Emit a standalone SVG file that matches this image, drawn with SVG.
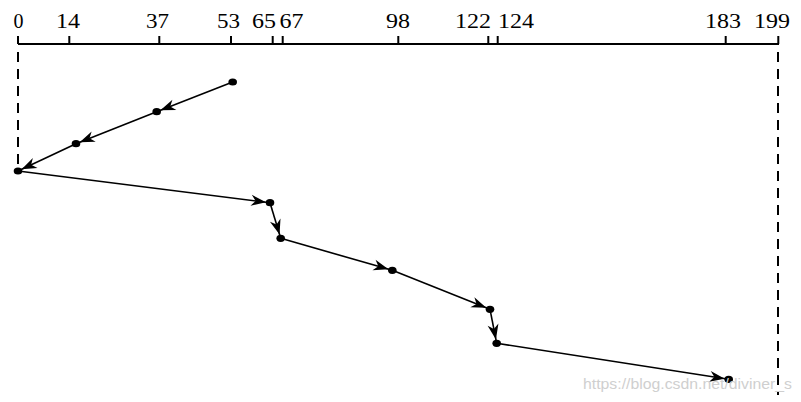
<svg xmlns="http://www.w3.org/2000/svg" width="801" height="402" viewBox="0 0 801 402">
<style>
.lbl{font-family:"Liberation Serif","Times New Roman",serif;font-size:20px;fill:#000}
.axis{stroke:#000;stroke-width:2;fill:none}
.dash{stroke:#000;stroke-width:2;stroke-dasharray:10 7;fill:none}
.seg{stroke:#000;stroke-width:1.6;fill:none;marker-end:url(#arr)}
.dot{fill:#000}
.wm{font-family:"Liberation Sans",Arial,sans-serif;font-size:15.5px;fill:#cfcfcf}
</style>
<defs>
<marker id="arr" markerUnits="userSpaceOnUse" viewBox="-22 -8 24 16" refX="0" refY="0" markerWidth="24" markerHeight="16" orient="auto">
<path d="M-4,0 L-19,-5.5 L-14.5,0 L-19,5.5 Z" fill="#000"/>
</marker>
</defs>
<rect width="801" height="402" fill="#fff"/>
<g id="axis">
<line class="axis" x1="18" y1="44" x2="779" y2="44"/>
<path class="axis" d="M18,36V44M69.3,36V44M159.3,36V44M231,36V44M272.7,36V44M282.7,36V44M398.3,36V44M488.3,36V44M497.7,36V44M725.7,36V44M778.3,36V44"/>
<text class="lbl" x="13.5" y="28" textLength="10" lengthAdjust="spacingAndGlyphs">0</text>
<text class="lbl" x="56" y="28" textLength="24" lengthAdjust="spacingAndGlyphs">14</text>
<text class="lbl" x="146" y="28" textLength="23" lengthAdjust="spacingAndGlyphs">37</text>
<text class="lbl" x="217" y="28" textLength="23" lengthAdjust="spacingAndGlyphs">53</text>
<text class="lbl" x="252" y="28" textLength="24" lengthAdjust="spacingAndGlyphs">65</text>
<text class="lbl" x="279.5" y="28" textLength="24" lengthAdjust="spacingAndGlyphs">67</text>
<text class="lbl" x="386" y="28" textLength="24" lengthAdjust="spacingAndGlyphs">98</text>
<text class="lbl" x="455" y="28" textLength="36" lengthAdjust="spacingAndGlyphs">122</text>
<text class="lbl" x="498" y="28" textLength="36" lengthAdjust="spacingAndGlyphs">124</text>
<text class="lbl" x="705" y="28" textLength="36" lengthAdjust="spacingAndGlyphs">183</text>
<text class="lbl" x="754" y="28" textLength="36" lengthAdjust="spacingAndGlyphs">199</text>
</g>
<g id="bounds">
<line class="dash" x1="18" y1="52" x2="18" y2="168"/>
<line class="dash" x1="778" y1="52" x2="778" y2="395"/>
</g>
<g id="connectors">
<line class="seg" x1="232.7" y1="82" x2="156.7" y2="111.7"/>
<line class="seg" x1="156.7" y1="111.7" x2="76" y2="143.7"/>
<line class="seg" x1="76" y1="143.7" x2="18" y2="171"/>
<line class="seg" x1="18" y1="171" x2="270" y2="202.7"/>
<line class="seg" x1="270" y1="202.7" x2="280.7" y2="238.3"/>
<line class="seg" x1="280.7" y1="238.3" x2="392.3" y2="270.3"/>
<line class="seg" x1="392.3" y1="270.3" x2="490" y2="309.3"/>
<line class="seg" x1="490" y1="309.3" x2="496.7" y2="343.3"/>
<line class="seg" x1="496.7" y1="343.3" x2="728.7" y2="379.3"/>
</g>
<g id="n53"><ellipse class="dot" cx="232.7" cy="82" rx="4.3" ry="3.6"/></g>
<g id="n37"><ellipse class="dot" cx="156.7" cy="111.7" rx="4.3" ry="3.6"/></g>
<g id="n14"><ellipse class="dot" cx="76" cy="143.7" rx="4.3" ry="3.6"/></g>
<g id="n0"><ellipse class="dot" cx="18" cy="171" rx="4.3" ry="3.6"/></g>
<g id="n65"><ellipse class="dot" cx="270" cy="202.7" rx="4.3" ry="3.6"/></g>
<g id="n67"><ellipse class="dot" cx="280.7" cy="238.3" rx="4.3" ry="3.6"/></g>
<g id="n98"><ellipse class="dot" cx="392.3" cy="270.3" rx="4.3" ry="3.6"/></g>
<g id="n122"><ellipse class="dot" cx="490" cy="309.3" rx="4.3" ry="3.6"/></g>
<g id="n124"><ellipse class="dot" cx="496.7" cy="343.3" rx="4.3" ry="3.6"/></g>
<g id="n183"><ellipse class="dot" cx="728.7" cy="379.3" rx="4.3" ry="3.6"/></g>
<text class="wm" x="583" y="389" textLength="209" lengthAdjust="spacingAndGlyphs">https://blog.csdn.net/diviner_s</text>
</svg>
